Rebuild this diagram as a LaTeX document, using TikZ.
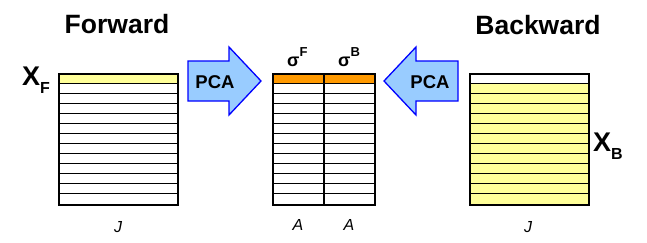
\documentclass[tikz,border=0pt]{standalone}
\usepackage{fontspec}
\setmainfont{Liberation Sans}
\begin{document}
\begin{tikzpicture}[x=1pt,y=-1pt,
  title/.style={font=\fontsize{26.5}{26.5}\selectfont\bfseries, inner sep=0pt},
  pcatext/.style={font=\fontsize{18.5}{18.5}\selectfont\bfseries, inner sep=0pt},
  axis/.style={font=\fontsize{16}{16}\selectfont\itshape, inner sep=0pt},
  bigx/.style={font=\fontsize{27}{27}\selectfont\bfseries, inner sep=0pt},
  sig/.style={font=\fontsize{18}{18}\selectfont\bfseries, inner sep=0pt},
  matbox/.style={draw=black, line width=1.8pt, inner sep=0pt},
  rowline/.style={draw=black, line width=1pt},
  bigarrow/.style={draw=blue, line width=1.3pt, fill={rgb,255:red,153;green,204;blue,255}, line join=miter}
]
\definecolor{rowyellow}{RGB}{255,255,153}
\definecolor{roworange}{RGB}{255,153,0}
\useasboundingbox (0,0) rectangle (647,242);

% ---------- left matrix ----------
\fill[rowyellow] (58,73) rectangle (177,83.08);
\foreach \i in {1,...,12} \draw[rowline] (58,73+\i*10.077) -- (177,73+\i*10.077);
\node[matbox, minimum width=119pt, minimum height=131pt, anchor=north west] (XF) at (58,73) {};

% ---------- middle matrix ----------
\fill[roworange] (272,73) rectangle (374,83.08);
\foreach \i in {1,...,12} \draw[rowline] (272,73+\i*10.077) -- (374,73+\i*10.077);
\node[matbox, minimum width=102pt, minimum height=131pt, anchor=north west] (S) at (272,73) {};
\draw[line width=1.8pt] (S.north) -- (S.south);

% ---------- right matrix ----------
\fill[rowyellow] (469,83.08) rectangle (588,204);
\foreach \i in {1,...,12} \draw[rowline] (469,73+\i*10.077) -- (588,73+\i*10.077);
\node[matbox, minimum width=119pt, minimum height=131pt, anchor=north west] (XB) at (469,73) {};

% ---------- arrows ----------
\draw[bigarrow] (188,61) -- (229,61) -- (229,47) -- (261,81) -- (229,115) -- (229,101) -- (188,101) -- cycle;
\node[pcatext] (pcaL) at (215,82) {PCA};
\draw[bigarrow] (458,61) -- (416,61) -- (416,47) -- (384,81) -- (416,115) -- (416,101) -- (458,101) -- cycle;
\node[pcatext] (pcaR) at (430,82) {PCA};

% ---------- titles ----------
\node[title] (fw) at (117,24) {Forward};
\node[title] (bw) at (538,25) {Backward};

% ---------- matrix labels ----------
\node[bigx, anchor=west] (xf) at (22,80) {X\raisebox{-0.3em}{\fontsize{16}{16}\selectfont F}};
\node[bigx, anchor=west] (xb) at (593,146) {X\raisebox{-0.3em}{\fontsize{16}{16}\selectfont B}};
\node[sig, anchor=base west] (sf) at (287,66) {σ\raisebox{10pt}{\fontsize{13}{13}\selectfont F}};
\node[sig, anchor=base west] (sb) at (338,66) {σ\raisebox{10pt}{\fontsize{13}{13}\selectfont B}};

\node[axis] (jl) at (118,227) {J};
\node[axis] (a1) at (298,225) {A};
\node[axis] (a2) at (349,225) {A};
\node[axis] (jr) at (528,227) {J};
\end{tikzpicture}
\end{document}
